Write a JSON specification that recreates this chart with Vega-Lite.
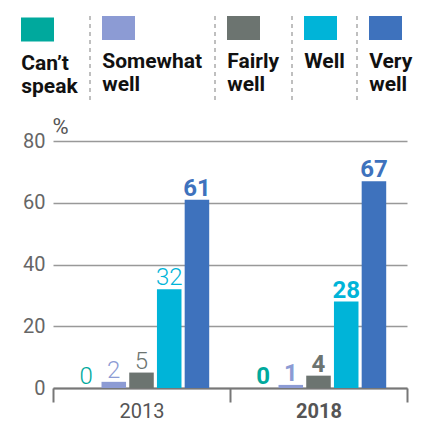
{
  "$schema": "https://vega.github.io/schema/vega-lite/v6.json",
  "width": 354,
  "height": 247,
  "padding": {"left": 20, "top": 15, "right": 6, "bottom": 0},
  "config": {"view": {"stroke": null}, "font": "Roboto"},
  "data": {"values": [
    {"year": "2013", "cat": "Can’t speak", "pct": 0},
    {"year": "2013", "cat": "Somewhat well", "pct": 2},
    {"year": "2013", "cat": "Fairly well", "pct": 5},
    {"year": "2013", "cat": "Well", "pct": 32},
    {"year": "2013", "cat": "Very well", "pct": 61},
    {"year": "2018", "cat": "Can’t speak", "pct": 0},
    {"year": "2018", "cat": "Somewhat well", "pct": 1},
    {"year": "2018", "cat": "Fairly well", "pct": 4},
    {"year": "2018", "cat": "Well", "pct": 28},
    {"year": "2018", "cat": "Very well", "pct": 67}
  ]},
  "encoding": {
    "x": {
      "field": "year", "type": "nominal",
      "scale": {"paddingInner": 0, "paddingOuter": 0},
      "axis": {
        "title": null, "labelAngle": 0, "grid": false,
        "domainColor": "#777", "domainWidth": 2,
        "tickColor": "#777", "tickWidth": 2, "tickSize": 14, "tickBand": "extent",
        "labelFont": "Roboto", "labelFontSize": 20, "labelColor": "#555",
        "labelBaseline": "alphabetic", "labelPadding": 15,
        "labelFontWeight": {"condition": {"test": "datum.value == '2018'", "value": "bold"}, "value": "normal"}
      }
    },
    "xOffset": {
      "field": "cat", "type": "nominal",
      "sort": ["Can’t speak", "Somewhat well", "Fairly well", "Well", "Very well"],
      "scale": {"paddingInner": 0.115, "paddingOuter": 0.75}
    },
    "y": {
      "field": "pct", "type": "quantitative",
      "scale": {"domain": [0, 80]},
      "axis": {
        "values": [0, 20, 40, 60, 80], "domain": false, "ticks": false,
        "gridColor": "#999", "gridWidth": 1.5,
        "labelFont": "Roboto", "labelFontSize": 20, "labelColor": "#666", "labelPadding": 8,
        "title": "%", "titleAngle": 0, "titleAlign": "left", "titleBaseline": "alphabetic",
        "titleX": -1, "titleY": -8, "titleFont": "Roboto", "titleFontSize": 22,
        "titleFontWeight": "normal", "titleColor": "#555"
      }
    },
    "color": {
      "field": "cat", "type": "nominal",
      "scale": {
        "domain": ["Can’t speak", "Somewhat well", "Fairly well", "Well", "Very well"],
        "range": ["#00A99D", "#8C9BD4", "#6C7470", "#00B4D8", "#3E72BD"]
      },
      "legend": {
        "title": null, "orient": "none", "legendX": -33, "legendY": -126,
        "direction": "horizontal", "columns": 5, "gridAlign": "each", "columnPadding": 9, "padding": 0,
        "symbolType": "M-1,-1L1.75,-1L1.75,1L-1,1L-1,-1L-2,-1L-2,6.083L-2,-1Z", "symbolSize": 576,
        "symbolStrokeWidth": 1.5, "symbolStrokeColor": "#aaa", "symbolOpacity": 1, "symbolOffset": 0,
        "symbolDash": [0, 126, 4, 4, 4, 4, 4, 4, 4, 4, 4, 4, 4, 4, 4, 4, 4, 4, 4, 4, 4, 4, 4, 300],
        "labelOffset": -24.75, "labelBaseline": "top", "labelLineHeight": 24,
        "labelFont": "Roboto", "labelFontSize": 21, "labelFontWeight": "bold", "labelColor": "#111",
        "labelLimit": 300,
        "labelExpr": "[split(datum.label, ' ')[0], split(datum.label, ' ')[1] || '']",
        "encode": {
          "symbols": {"update": {
            "stroke": {"value": "#aaa"},
            "strokeOpacity": {"signal": "indexof(datum.value, 'speak') >= 0 ? 0 : 1"}
          }},
          "labels": {"update": {"dy": {"value": 23}}}
        }
      }
    }
  },
  "layer": [
    {"mark": {"type": "bar"}},
    {
      "transform": [{"filter": "datum.year == '2013' && datum.cat != 'Very well'"}],
      "mark": {"type": "text", "baseline": "alphabetic", "dy": -4, "font": "Roboto", "fontSize": 24, "fontWeight": 300},
      "encoding": {"text": {"field": "pct", "type": "quantitative"}}
    },
    {
      "transform": [{"filter": "datum.year == '2018' || datum.cat == 'Very well'"}],
      "mark": {"type": "text", "baseline": "alphabetic", "dy": -4, "font": "Roboto", "fontSize": 24, "fontWeight": "bold"},
      "encoding": {"text": {"field": "pct", "type": "quantitative"}}
    }
  ]
}
